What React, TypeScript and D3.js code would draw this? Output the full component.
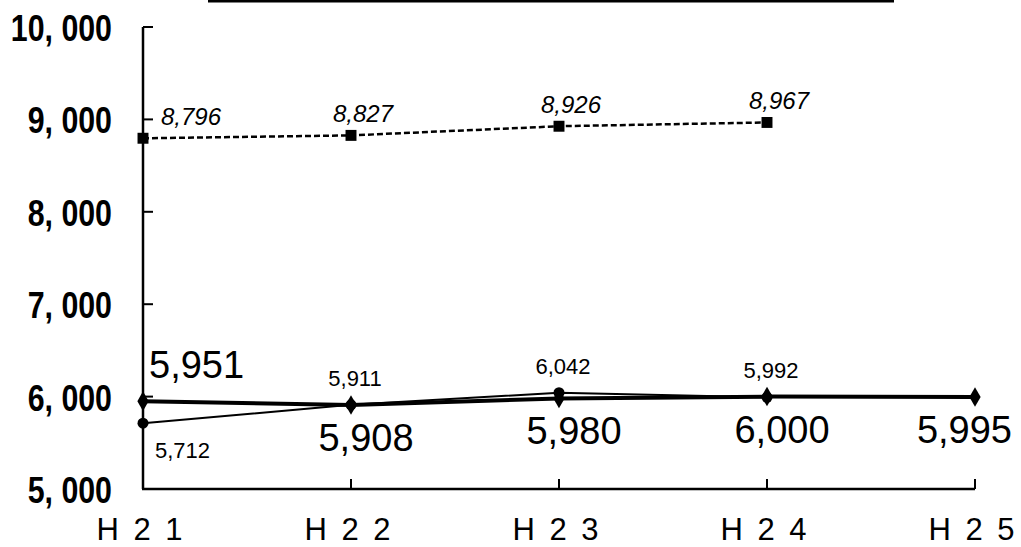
import React from "react";
import * as d3 from "d3";

const categories = ["H 2 1", "H 2 2", "H 2 3", "H 2 4", "H 2 5"];
const yTicks = [5000, 6000, 7000, 8000, 9000, 10000];
const dashedSeries = [8796, 8827, 8926, 8967];
const thinSeries = [5712, 5911, 6042, 5992];
const thickSeries = [5951, 5908, 5980, 6000, 5995];

const W = 1021;
const H = 547;
const fmt = d3.format(",");
const yFmt = (v: number) => fmt(v).replace(",", ", ");

export default function App() {
  const x = d3.scalePoint<string>().domain(categories).range([143, 975]);
  const y = d3.scaleLinear().domain([5000, 10000]).range([489, 27]);
  const line = d3
    .line<number>()
    .x((_, i) => x(categories[i]) as number)
    .y((d) => y(d));

  const px = (i: number) => x(categories[i]) as number;
  const diamond = d3.symbol().type(d3.symbolDiamond).size(110)() as string;
  const square = d3.symbol().type(d3.symbolSquare).size(120)() as string;

  const sans = "'Liberation Sans', Arial, sans-serif";

  return (
    <svg
      width={W}
      height={H}
      viewBox={`0 0 ${W} ${H}`}
      style={{ position: "absolute", left: 0, top: 0, background: "#fff" }}
    >
      <rect x={0} y={0} width={W} height={H} fill="#fff" />
      {/* title box bottom border */}
      <line x1={208} x2={894} y1={1} y2={1} stroke="#000" strokeWidth={3} />

      {/* y axis */}
      <line x1={143} x2={143} y1={y(10000)} y2={y(5000)} stroke="#000" strokeWidth={2.5} />
      {yTicks.map((t) => (
        <g key={t}>
          {t !== 5000 && (
            <line x1={143} x2={153} y1={y(t)} y2={y(t)} stroke="#000" strokeWidth={2} />
          )}
          <g transform={`translate(112,${y(t) + 14}) scale(0.82,1)`}>
            <text
              x={0}
              y={0}
              textAnchor="end"
              fontFamily={sans}
              fontWeight="bold"
              fontSize={37}
              fill="#000"
              style={{ whiteSpace: "pre" }}
            >
              {yFmt(t)}
            </text>
          </g>
        </g>
      ))}

      {/* x axis */}
      <line x1={142} x2={975} y1={y(5000)} y2={y(5000)} stroke="#000" strokeWidth={2.5} />
      {categories.map((c, i) => (
        <g key={c}>
          {i > 0 && (
            <line x1={px(i)} x2={px(i)} y1={y(5000)} y2={y(5000) - 10} stroke="#000" strokeWidth={2} />
          )}
          <text
            x={px(i) - 2}
            y={540}
            textAnchor="middle"
            fontFamily={sans}
            fontSize={31}
            letterSpacing={3}
            fill="#000"
            style={{ whiteSpace: "pre" }}
          >
            {c}
          </text>
        </g>
      ))}

      {/* dashed series */}
      <path
        d={line(dashedSeries) as string}
        fill="none"
        stroke="#000"
        strokeWidth={2.5}
        strokeDasharray="6,3"
      />
      {dashedSeries.map((v, i) => (
        <g key={"d" + i}>
          <path d={square} transform={`translate(${px(i)},${y(v)})`} fill="#000" />
          <text
            x={i === 0 ? px(i) + 18 : px(i) + 12}
            y={y(v) - 13}
            textAnchor={i === 0 ? "start" : "middle"}
            fontFamily={sans}
            fontStyle="italic"
            fontSize={24}
            fill="#000"
          >
            {fmt(v)}
          </text>
        </g>
      ))}

      {/* thin series */}
      <path d={line(thinSeries) as string} fill="none" stroke="#000" strokeWidth={2} />
      {thinSeries.map((v, i) => (
        <g key={"t" + i}>
          <circle cx={px(i)} cy={y(v)} r={5.5} fill="#000" />
          <text
            x={i === 0 ? px(i) + 12 : px(i) + 4}
            y={i === 0 ? y(v) + 35 : y(v) - 19}
            textAnchor={i === 0 ? "start" : "middle"}
            fontFamily={sans}
            fontSize={22}
            fill="#000"
          >
            {fmt(v)}
          </text>
        </g>
      ))}

      {/* thick series */}
      <path d={line(thickSeries) as string} fill="none" stroke="#000" strokeWidth={4} />
      {thickSeries.map((v, i) => {
        const last = i === thickSeries.length - 1;
        return (
          <g key={"k" + i}>
            <path d={diamond} transform={`translate(${px(i)},${y(v)})`} fill="#000" />
            <text
              x={i === 0 ? px(i) + 6 : last ? px(i) + 37 : px(i) + 15}
              y={i === 0 ? y(v) - 23 : y(v) + 46}
              textAnchor={i === 0 ? "start" : last ? "end" : "middle"}
              fontFamily={sans}
              fontSize={38}
              fill="#000"
            >
              {fmt(v)}
            </text>
          </g>
        );
      })}
    </svg>
  );
}
